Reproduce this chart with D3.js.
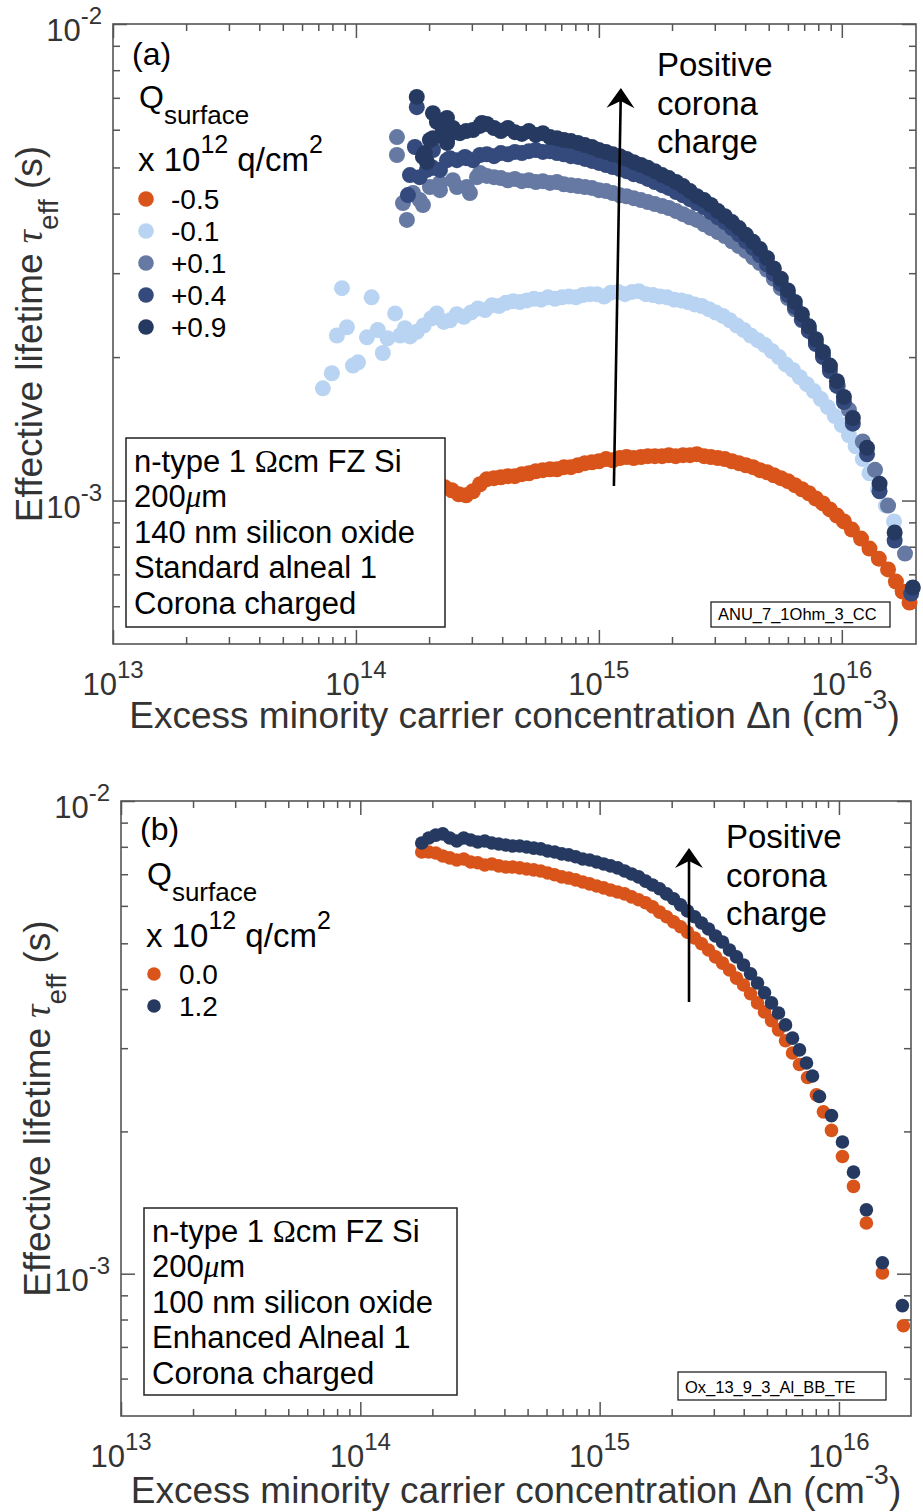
<!DOCTYPE html>
<html>
<head>
<meta charset="utf-8">
<script src="https://cdn.jsdelivr.net/npm/d3@7"></script>
<style>
  body { margin: 0; background: #fff; }
  svg { display: block; }
  text { font-family: "Liberation Sans", Arial, sans-serif; }
</style>
</head>
<body>
<svg id="fig" width="923" height="1512"></svg>
<script>
// ---------------- data: [excess carrier density (cm^-3), effective lifetime (s)] ----------------

// Panel (a): 140 nm oxide, standard alneal, five corona charge levels
const qA_m05 = [
  [1.78e14,1.061e-3],[1.90e14,1.050e-3],[2.04e14,1.056e-3],[2.17e14,1.051e-3],[2.32e14,1.066e-3],
  [2.48e14,1.051e-3],[2.65e14,1.031e-3],[2.84e14,1.026e-3],[3.03e14,1.046e-3],[3.24e14,1.082e-3],
  [3.46e14,1.109e-3],[3.70e14,1.114e-3],[3.95e14,1.119e-3],[4.22e14,1.125e-3],[4.51e14,1.125e-3],
  [4.82e14,1.136e-3],[5.15e14,1.141e-3],[5.50e14,1.152e-3],[5.88e14,1.158e-3],[6.29e14,1.163e-3],
  [6.72e14,1.163e-3],[7.18e14,1.175e-3],[7.67e14,1.175e-3],[8.20e14,1.186e-3],[8.76e14,1.198e-3],
  [9.36e14,1.203e-3],[1.00e15,1.209e-3],[1.07e15,1.222e-3],[1.14e15,1.215e-3],[1.22e15,1.228e-3],
  [1.30e15,1.234e-3],[1.39e15,1.228e-3],[1.49e15,1.234e-3],[1.59e15,1.239e-3],[1.70e15,1.239e-3],
  [1.82e15,1.239e-3],[1.94e15,1.245e-3],[2.07e15,1.239e-3],[2.22e15,1.245e-3],[2.37e15,1.245e-3],
  [2.53e15,1.251e-3],[2.71e15,1.239e-3],[2.89e15,1.234e-3],[3.09e15,1.228e-3],[3.30e15,1.222e-3],
  [3.53e15,1.209e-3],[3.77e15,1.198e-3],[4.03e15,1.186e-3],[4.31e15,1.175e-3],[4.60e15,1.158e-3],
  [4.92e15,1.147e-3],[5.25e15,1.130e-3],[5.61e15,1.114e-3],[6.00e15,1.098e-3],[6.41e15,1.077e-3],
  [6.85e15,1.056e-3],[7.32e15,1.036e-3],[7.82e15,1.010e-3],[8.36e15,9.86e-4],[8.93e15,9.58e-4],
  [9.55e15,9.30e-4],[1.02e16,9.04e-4],[1.10e16,8.69e-4],[1.20e16,8.32e-4],[1.30e16,7.93e-4],
  [1.42e16,7.55e-4],[1.55e16,7.17e-4],[1.67e16,6.76e-4],[1.78e16,6.44e-4],[1.90e16,6.11e-4]
];

const qA_m01 = [
  [7.31e13,1.72e-3],[7.96e13,1.85e-3],[8.35e13,2.22e-3],[8.76e13,2.79e-3],[9.18e13,2.31e-3],
  [9.72e13,1.92e-3],[1.02e14,1.95e-3],[1.11e14,2.20e-3],[1.16e14,2.67e-3],[1.23e14,2.28e-3],
  [1.29e14,2.04e-3],[1.35e14,2.19e-3],[1.45e14,2.47e-3],[1.52e14,2.22e-3],[1.59e14,2.30e-3],
  [1.67e14,2.21e-3],[1.78e14,2.26e-3],[1.90e14,2.33e-3],[2.04e14,2.41e-3],[2.15e14,2.47e-3],
  [2.30e14,2.37e-3],[2.44e14,2.39e-3],[2.60e14,2.46e-3],[2.78e14,2.43e-3],[2.97e14,2.48e-3],
  [3.18e14,2.53e-3],[3.40e14,2.51e-3],[3.63e14,2.57e-3],[3.88e14,2.56e-3],[4.14e14,2.60e-3],
  [4.43e14,2.62e-3],[4.73e14,2.61e-3],[5.06e14,2.63e-3],[5.40e14,2.65e-3],[5.78e14,2.64e-3],
  [6.17e14,2.67e-3],[6.60e14,2.65e-3],[7.05e14,2.67e-3],[7.53e14,2.68e-3],[8.05e14,2.67e-3],
  [8.60e14,2.70e-3],[9.19e14,2.71e-3],[9.81e14,2.71e-3],[1.05e15,2.68e-3],[1.12e15,2.73e-3],
  [1.20e15,2.74e-3],[1.28e15,2.71e-3],[1.37e15,2.74e-3],[1.46e15,2.75e-3],[1.56e15,2.71e-3],
  [1.67e15,2.70e-3],[1.78e15,2.68e-3],[1.91e15,2.67e-3],[2.04e15,2.64e-3],[2.18e15,2.63e-3],
  [2.32e15,2.61e-3],[2.48e15,2.58e-3],[2.65e15,2.56e-3],[2.84e15,2.52e-3],[3.03e15,2.48e-3],
  [3.24e15,2.44e-3],[3.46e15,2.39e-3],[3.70e15,2.33e-3],[3.95e15,2.28e-3],[4.22e15,2.22e-3],
  [4.51e15,2.17e-3],[4.82e15,2.12e-3],[5.15e15,2.06e-3],[5.51e15,2.00e-3],[5.88e15,1.93e-3],
  [6.29e15,1.88e-3],[6.72e15,1.815e-3],[7.18e15,1.755e-3],[7.67e15,1.697e-3],[8.20e15,1.633e-3],
  [8.76e15,1.57e-3],[9.36e15,1.504e-3],[1.00e16,1.44e-3],[1.07e16,1.371e-3],[1.14e16,1.30e-3],
  [1.22e16,1.222e-3],[1.30e16,1.141e-3],[1.41e16,1.056e-3],[1.52e16,9.76e-4],[1.64e16,9.04e-4]
];

const qA_p01 = [
  [1.475e14,5.79e-3],[1.475e14,5.31e-3],[1.561e14,4.21e-3],[1.621e14,3.88e-3],[1.717e14,4.42e-3],
  [1.83e14,4.27e-3],[1.887e14,4.17e-3],[2.016e14,4.55e-3],[2.217e14,4.48e-3],[2.217e14,4.64e-3],
  [2.506e14,4.70e-3],[2.604e14,4.55e-3],[2.86e14,4.55e-3],[2.945e14,4.42e-3],[3.15e14,4.77e-3],
  [3.24e14,4.87e-3],[3.46e14,4.80e-3],[3.70e14,4.77e-3],[3.95e14,4.75e-3],[4.22e14,4.70e-3],
  [4.51e14,4.73e-3],[4.82e14,4.68e-3],[5.15e14,4.70e-3],[5.50e14,4.66e-3],[5.88e14,4.68e-3],
  [6.29e14,4.64e-3],[6.72e14,4.66e-3],[7.18e14,4.61e-3],[7.67e14,4.59e-3],[8.20e14,4.57e-3],
  [8.76e14,4.55e-3],[9.36e14,4.53e-3],[1.00e15,4.48e-3],[1.07e15,4.46e-3],[1.14e15,4.42e-3],
  [1.22e15,4.37e-3],[1.30e15,4.35e-3],[1.39e15,4.31e-3],[1.49e15,4.27e-3],[1.59e15,4.23e-3],
  [1.70e15,4.19e-3],[1.82e15,4.15e-3],[1.94e15,4.11e-3],[2.08e15,4.05e-3],[2.22e15,3.99e-3],
  [2.37e15,3.93e-3],[2.53e15,3.88e-3],[2.71e15,3.80e-3],[2.89e15,3.73e-3],[3.09e15,3.66e-3],
  [3.30e15,3.59e-3],[3.53e15,3.50e-3],[3.77e15,3.42e-3],[4.03e15,3.34e-3],[4.31e15,3.24e-3],
  [4.60e15,3.15e-3],[4.92e15,3.05e-3],[5.25e15,2.92e-3],[5.61e15,2.79e-3],[6.00e15,2.66e-3],
  [6.41e15,2.52e-3],[6.85e15,2.39e-3],[7.32e15,2.27e-3],[7.82e15,2.14e-3],[8.36e15,2.02e-3],
  [8.93e15,1.905e-3],[9.63e15,1.74e-3],[1.07e16,1.55e-3],[1.22e16,1.33e-3],[1.37e16,1.16e-3],
  [1.55e16,9.76e-4],[1.82e16,7.74e-4]
];

const qA_p04 = [
  [1.78e14,6.69e-3],[1.749e14,5.52e-3],[1.668e14,4.82e-3],[1.637e14,4.375e-3],[1.83e14,4.77e-3],
  [1.96e14,4.94e-3],[2.075e14,5.44e-3],[2.075e14,4.99e-3],[2.217e14,4.94e-3],[2.37e14,5.18e-3],
  [2.437e14,5.23e-3],[2.604e14,5.18e-3],[2.81e14,5.26e-3],[2.84e14,5.23e-3],
  [3.03e14,5.18e-3],[3.24e14,5.31e-3],[3.46e14,5.33e-3],[3.70e14,5.28e-3],[3.95e14,5.36e-3],
  [4.22e14,5.33e-3],[4.51e14,5.39e-3],[4.82e14,5.36e-3],[5.15e14,5.41e-3],[5.50e14,5.44e-3],
  [5.88e14,5.39e-3],[6.29e14,5.41e-3],[6.72e14,5.36e-3],[7.18e14,5.33e-3],[7.67e14,5.28e-3],
  [8.20e14,5.26e-3],[8.76e14,5.21e-3],[9.36e14,5.16e-3],[1.00e15,5.11e-3],[1.07e15,5.06e-3],
  [1.14e15,5.01e-3],[1.22e15,4.96e-3],[1.30e15,4.91e-3],[1.39e15,4.84e-3],[1.49e15,4.80e-3],
  [1.59e15,4.73e-3],[1.70e15,4.66e-3],[1.82e15,4.59e-3],[1.94e15,4.53e-3],[2.08e15,4.44e-3],
  [2.22e15,4.37e-3],[2.37e15,4.29e-3],[2.53e15,4.21e-3],[2.71e15,4.13e-3],[2.89e15,4.03e-3],
  [3.09e15,3.93e-3],[3.30e15,3.84e-3],[3.53e15,3.73e-3],[3.77e15,3.62e-3],[4.03e15,3.50e-3],
  [4.31e15,3.39e-3],[4.60e15,3.27e-3],[4.92e15,3.13e-3],[5.25e15,2.99e-3],[5.61e15,2.85e-3],
  [6.00e15,2.70e-3],[6.41e15,2.55e-3],[6.85e15,2.40e-3],[7.32e15,2.27e-3],[7.82e15,2.13e-3],
  [8.36e15,2.00e-3],[8.93e15,1.87e-3],[9.55e15,1.74e-3],[1.02e16,1.61e-3],[1.11e16,1.45e-3],
  [1.27e16,1.25e-3],[1.43e16,1.046e-3],[1.65e16,8.24e-4],[1.93e16,6.38e-4]
];

const qA_p09 = [
  [1.78e14,7.03e-3],[1.92e14,5.36e-3],[2.075e14,6.50e-3],[2.075e14,5.76e-3],[2.154e14,6.23e-3],
  [2.28e14,5.99e-3],[2.28e14,6.08e-3],[2.016e14,5.71e-3],[1.887e14,5.26e-3],[1.96e14,5.13e-3],
  [2.37e14,5.71e-3],[2.37e14,5.63e-3],[2.37e14,6.35e-3],[2.506e14,6.05e-3],[2.60e14,5.93e-3],
  [2.68e14,5.90e-3],[2.84e14,5.96e-3],[3.03e14,5.99e-3],[3.24e14,6.11e-3],[3.30e14,6.20e-3],
  [3.46e14,6.17e-3],[3.70e14,6.05e-3],[3.95e14,5.96e-3],[4.22e14,6.05e-3],[4.51e14,5.93e-3],
  [4.82e14,5.88e-3],[5.15e14,5.96e-3],[5.50e14,5.85e-3],[5.88e14,5.90e-3],[6.29e14,5.79e-3],
  [6.72e14,5.76e-3],[7.18e14,5.71e-3],[7.67e14,5.68e-3],[8.20e14,5.63e-3],[8.76e14,5.57e-3],
  [9.36e14,5.52e-3],[1.00e15,5.44e-3],[1.07e15,5.39e-3],[1.14e15,5.33e-3],[1.22e15,5.28e-3],
  [1.30e15,5.21e-3],[1.39e15,5.13e-3],[1.49e15,5.06e-3],[1.59e15,4.99e-3],[1.70e15,4.91e-3],
  [1.82e15,4.82e-3],[1.94e15,4.75e-3],[2.08e15,4.66e-3],[2.22e15,4.57e-3],[2.37e15,4.46e-3],
  [2.53e15,4.35e-3],[2.71e15,4.27e-3],[2.89e15,4.17e-3],[3.09e15,4.05e-3],[3.30e15,3.95e-3],
  [3.53e15,3.84e-3],[3.77e15,3.73e-3],[4.03e15,3.61e-3],[4.31e15,3.49e-3],[4.60e15,3.37e-3],
  [4.92e15,3.23e-3],[5.25e15,3.07e-3],[5.61e15,2.92e-3],[6.00e15,2.76e-3],[6.41e15,2.61e-3],
  [6.85e15,2.46e-3],[7.32e15,2.32e-3],[7.82e15,2.18e-3],[8.36e15,2.05e-3],[8.93e15,1.92e-3],
  [9.55e15,1.78e-3],[1.02e16,1.65e-3],[1.11e16,1.49e-3],[1.27e16,1.29e-3],[1.43e16,1.085e-3],
  [1.65e16,8.57e-4],[1.96e16,6.57e-4]
];

// Panel (b): 100 nm oxide, enhanced alneal, two corona charge levels
const qB_00 = [
  [1.806e14,7.80e-3],[1.932e14,7.80e-3],[2.067e14,7.76e-3],[2.211e14,7.65e-3],[2.364e14,7.58e-3],
  [2.529e14,7.50e-3],[2.705e14,7.54e-3],[2.893e14,7.43e-3],[3.095e14,7.40e-3],[3.310e14,7.32e-3],
  [3.541e14,7.36e-3],[3.787e14,7.29e-3],[4.051e14,7.25e-3],[4.333e14,7.25e-3],[4.634e14,7.22e-3],
  [4.957e14,7.18e-3],[5.302e14,7.15e-3],[5.672e14,7.11e-3],[6.066e14,7.04e-3],[6.489e14,6.98e-3],
  [6.940e14,6.91e-3],[7.425e14,6.87e-3],[7.941e14,6.81e-3],[8.494e14,6.74e-3],[9.084e14,6.68e-3],
  [9.716e14,6.61e-3],[1.039e15,6.55e-3],[1.111e15,6.48e-3],[1.189e15,6.42e-3],[1.272e15,6.36e-3],
  [1.360e15,6.27e-3],[1.455e15,6.18e-3],[1.556e15,6.09e-3],[1.664e15,5.97e-3],[1.780e15,5.82e-3],
  [1.904e15,5.69e-3],[2.037e15,5.55e-3],[2.178e15,5.42e-3],[2.330e15,5.28e-3],[2.493e15,5.13e-3],
  [2.666e15,4.99e-3],[2.852e15,4.84e-3],[3.050e15,4.68e-3],[3.263e15,4.54e-3],[3.490e15,4.39e-3],
  [3.733e15,4.22e-3],[3.993e15,4.08e-3],[4.271e15,3.91e-3],[4.568e15,3.74e-3],[4.886e15,3.58e-3],
  [5.226e15,3.43e-3],[5.590e15,3.28e-3],[5.979e15,3.11e-3],[6.395e15,2.93e-3],[6.840e15,2.77e-3],
  [7.39e15,2.60e-3],[8.05e15,2.39e-3],[8.61e15,2.20e-3],[9.305e15,2.01e-3],[1.034e16,1.77e-3],
  [1.15e16,1.53e-3],[1.302e16,1.28e-3],[1.519e16,1.004e-3],[1.859e16,7.76e-4]
];

const qB_12 = [
  [1.806e14,8.15e-3],[1.932e14,8.35e-3],[2.067e14,8.47e-3],[2.211e14,8.52e-3],[2.364e14,8.35e-3],
  [2.529e14,8.23e-3],[2.705e14,8.35e-3],[2.893e14,8.27e-3],[3.095e14,8.19e-3],[3.310e14,8.23e-3],
  [3.541e14,8.15e-3],[3.787e14,8.11e-3],[4.051e14,8.07e-3],[4.333e14,8.03e-3],[4.634e14,8.03e-3],
  [4.957e14,7.99e-3],[5.302e14,7.95e-3],[5.672e14,7.92e-3],[6.066e14,7.84e-3],[6.489e14,7.80e-3],
  [6.940e14,7.73e-3],[7.425e14,7.69e-3],[7.941e14,7.62e-3],[8.494e14,7.54e-3],[9.084e14,7.50e-3],
  [9.716e14,7.43e-3],[1.039e15,7.36e-3],[1.111e15,7.29e-3],[1.189e15,7.22e-3],[1.272e15,7.11e-3],
  [1.360e15,7.01e-3],[1.455e15,6.91e-3],[1.556e15,6.77e-3],[1.664e15,6.64e-3],[1.780e15,6.52e-3],
  [1.904e15,6.36e-3],[2.037e15,6.21e-3],[2.178e15,6.03e-3],[2.330e15,5.85e-3],[2.493e15,5.69e-3],
  [2.666e15,5.52e-3],[2.852e15,5.36e-3],[3.050e15,5.18e-3],[3.263e15,5.03e-3],[3.490e15,4.84e-3],
  [3.733e15,4.68e-3],[3.993e15,4.50e-3],[4.271e15,4.31e-3],[4.568e15,4.12e-3],[4.886e15,3.93e-3],
  [5.226e15,3.74e-3],[5.590e15,3.56e-3],[5.979e15,3.36e-3],[6.395e15,3.15e-3],[6.840e15,2.975e-3],
  [7.317e15,2.79e-3],[7.752e15,2.62e-3],[8.292e15,2.37e-3],[9.305e15,2.16e-3],[1.034e16,1.90e-3],
  [1.15e16,1.64e-3],[1.302e16,1.365e-3],[1.519e16,1.055e-3],[1.841e16,8.56e-4]
];

// legend labels (surface charge, x 10^12 q/cm^2)
const legendA = ["-0.5", "-0.1", "+0.1", "+0.4", "+0.9"];
const legendB = ["0.0", "1.2"];

// major tick values and their exponent labels
const dnMajor = [1e13, 1e14, 1e15, 1e16];
const dnMajorExp = ["13", "14", "15", "16"];
const tauMajor = [1e-3, 1e-2];
const tauMajorExp = ["-3", "-2"];

// sample description boxes
const boxA = ["n-type 1 Ωcm FZ Si", "200μm", "140 nm silicon oxide", "Standard alneal 1", "Corona charged"];
const boxB = ["n-type 1 Ωcm FZ Si", "200μm", "100 nm silicon oxide", "Enhanced Alneal 1", "Corona charged"];
const tagA = "ANU_7_1Ohm_3_CC";
const tagB = "Ox_13_9_3_Al_BB_TE";
const arrowText = ["Positive", "corona", "charge"];

// ---------------- styling ----------------
const colorsA = ["#d9541a", "#b8d4f2", "#6579a3", "#34497c", "#263a61"];
const colorsB = ["#d9541a", "#263a61"];
const axisColor = "#555";
const labelColor = "#333";

const svg = d3.select("#fig");
svg.append("rect").attr("width", 923).attr("height", 1512).attr("fill", "#fff");

// text helper: Greek symbols set in a serif face
function richText(sel, str) {
  for (const ch of str.split(/([Ωμ])/)) {
    if (!ch) continue;
    const t = sel.append("tspan").text(ch);
    if (ch === "Ω") t.attr("font-family", "Liberation Serif");
    if (ch === "μ") t.attr("font-family", "Liberation Serif").attr("font-style", "italic");
  }
}

function drawPanel(o) {
  const g = svg.append("g");
  const x = d3.scaleLog().domain(o.xDomain).range([o.left, o.right]);
  const y = d3.scaleLog().domain([5e-4, 1e-2]).range([o.bottom, o.top]);

  // minor tick values inside the domains
  const xMinor = [], yMinor = [];
  for (let e = 13; e <= 16; e++) for (let k = 2; k <= 9; k++) {
    const v = k * Math.pow(10, e);
    if (v < o.xDomain[1] * 0.985) xMinor.push(v);
  }
  for (let e = -4; e <= -3; e++) for (let k = 2; k <= 9; k++) {
    const v = k * Math.pow(10, e);
    if (v > 5.05e-4 && v < 1e-2) yMinor.push(v);
  }

  // frame
  g.append("rect")
    .attr("x", o.left).attr("y", o.top)
    .attr("width", o.right - o.left).attr("height", o.bottom - o.top)
    .attr("fill", "none").attr("stroke", axisColor).attr("stroke-width", 1.6);

  // inward ticks on all four sides
  const tickSets = [
    [d3.axisBottom, x, `translate(0,${o.bottom})`],
    [d3.axisTop, x, `translate(0,${o.top})`],
    [d3.axisLeft, y, `translate(${o.left},0)`],
    [d3.axisRight, y, `translate(${o.right},0)`]
  ];
  for (const [fn, sc, tr] of tickSets) {
    const isX = sc === x;
    [[isX ? dnMajor : tauMajor, 14], [isX ? xMinor : yMinor, 7]].forEach(([vals, len]) => {
      g.append("g").attr("transform", tr)
        .call(fn(sc).tickValues(vals).tickSize(-len).tickFormat(() => ""))
        .call(a => a.select(".domain").remove())
        .call(a => a.selectAll("text").remove())
        .selectAll("line").attr("stroke", axisColor).attr("stroke-width", 1.5);
    });
  }

  // tick labels 10^n
  dnMajor.forEach((v, i) => {
    const t = g.append("text").attr("x", x(v)).attr("y", o.bottom + 51)
      .attr("text-anchor", "middle").attr("font-size", 31).attr("fill", labelColor);
    t.append("tspan").text("10");
    t.append("tspan").attr("dy", -17).attr("font-size", 24).text(dnMajorExp[i]);
  });
  tauMajor.forEach((v, i) => {
    const t = g.append("text").attr("x", o.left - 11).attr("y", y(v) + 17)
      .attr("text-anchor", "end").attr("font-size", 31).attr("fill", labelColor);
    t.append("tspan").text("10");
    t.append("tspan").attr("dy", -17).attr("font-size", 24).text(tauMajorExp[i]);
  });

  // axis titles
  const xt = g.append("text").attr("x", (o.left + o.right) / 2).attr("y", o.xTitleY)
    .attr("text-anchor", "middle").attr("font-size", 37).attr("fill", labelColor);
  xt.append("tspan").text("Excess minority carrier concentration Δn (cm");
  xt.append("tspan").attr("dy", -19).attr("font-size", 27).text("-3");
  xt.append("tspan").attr("dy", 19).text(")");

  const yt = g.append("text")
    .attr("transform", `translate(${o.yTitleX},${(o.top + o.bottom) / 2}) rotate(-90)`)
    .attr("text-anchor", "middle").attr("font-size", 37).attr("fill", labelColor);
  yt.append("tspan").text("Effective lifetime ");
  yt.append("tspan").attr("font-family", "Liberation Serif").attr("font-style", "italic").text("τ");
  yt.append("tspan").attr("dy", 16).attr("font-size", 28).text("eff");
  yt.append("tspan").attr("dy", -16).text(" (s)");

  // data points
  o.series.forEach((s, i) => {
    g.append("g").selectAll("circle").data(s).join("circle")
      .attr("cx", d => x(d[0])).attr("cy", d => y(d[1]))
      .attr("r", o.r).attr("fill", o.colors[i]);
  });

  // sample description box
  g.append("rect").attr("x", o.box.x).attr("y", o.box.y)
    .attr("width", o.box.w).attr("height", o.box.h)
    .attr("fill", "#fff").attr("stroke", "#222").attr("stroke-width", 1.5);
  o.boxLines.forEach((line, i) => {
    const t = g.append("text").attr("x", o.box.x + 8).attr("y", o.box.y + 34 + i * 35.4)
      .attr("font-size", 31).attr("fill", "#000");
    richText(t, line);
  });

  // file tag box
  g.append("rect").attr("x", o.tag.x).attr("y", o.tag.y)
    .attr("width", o.tag.w).attr("height", o.tag.h)
    .attr("fill", "#fff").attr("stroke", "#222").attr("stroke-width", 1.3);
  g.append("text").attr("x", o.tag.x + 7).attr("y", o.tag.y + o.tag.h - 7)
    .attr("font-size", 16.5).attr("fill", "#000").text(o.tagText);

  // panel letter and legend header
  g.append("text").attr("x", o.leg.x - 7).attr("y", o.leg.letterY)
    .attr("font-size", 32).attr("fill", "#000").text(o.letter);
  const q = g.append("text").attr("x", o.leg.x).attr("y", o.leg.qY)
    .attr("font-size", 32).attr("fill", "#000");
  q.append("tspan").text("Q");
  q.append("tspan").attr("dy", 16).attr("font-size", 26).text("surface");
  const u = g.append("text").attr("x", o.leg.x - 1).attr("y", o.leg.unitY)
    .attr("font-size", 33).attr("fill", "#000");
  u.append("tspan").text("x 10");
  u.append("tspan").attr("dy", -18).attr("font-size", 25).text("12");
  u.append("tspan").attr("dy", 18).text(" q/cm");
  u.append("tspan").attr("dy", -18).attr("font-size", 25).text("2");

  o.legend.forEach((lab, i) => {
    const cy = o.leg.row0 + i * o.leg.rowStep;
    g.append("circle").attr("cx", o.leg.x + 7).attr("cy", cy).attr("r", o.legR).attr("fill", o.colors[i]);
    g.append("text").attr("x", o.leg.x + 32).attr("y", cy + 10)
      .attr("font-size", 28).attr("fill", "#000").text(lab);
  });

  // arrow showing increasing positive charge
  const x0 = x(o.arrow[0][0]), y0 = y(o.arrow[0][1]);
  const x1 = x(o.arrow[1][0]), y1 = y(o.arrow[1][1]);
  const len = Math.hypot(x1 - x0, y1 - y0);
  const ux = (x1 - x0) / len, uy = (y1 - y0) / len;
  const px = -uy, py = ux;
  g.append("line").attr("x1", x0).attr("y1", y0)
    .attr("x2", x1 - ux * 10).attr("y2", y1 - uy * 10)
    .attr("stroke", "#000").attr("stroke-width", 2.6);
  const head = [
    [x1, y1],
    [x1 - ux * 20 + px * 14, y1 - uy * 20 + py * 14],
    [x1 - ux * 13, y1 - uy * 13],
    [x1 - ux * 20 - px * 14, y1 - uy * 20 - py * 14]
  ];
  g.append("polygon").attr("points", head.map(p => p.join(",")).join(" ")).attr("fill", "#000");

  arrowText.forEach((w, i) => {
    g.append("text").attr("x", o.arrowLabel.x).attr("y", o.arrowLabel.y + i * 38.5)
      .attr("font-size", 33).attr("fill", "#000").text(w);
  });
}

drawPanel({
  left: 113, right: 916, top: 24, bottom: 644,
  xDomain: [1e13, 2.02e16],
  xTitleY: 728, yTitleX: 42,
  series: [qA_m05, qA_m01, qA_p01, qA_p04, qA_p09],
  colors: colorsA, r: 8, legR: 7.8,
  legend: legendA, letter: "(a)",
  leg: { x: 139, letterY: 65, qY: 108, unitY: 171, row0: 199, rowStep: 32 },
  box: { x: 126, y: 438, w: 319, h: 189 }, boxLines: boxA,
  tag: { x: 711, y: 602, w: 179, h: 25 }, tagText: tagA,
  arrow: [[1.153e15, 1.073e-3], [1.232e15, 7.34e-3]],
  arrowLabel: { x: 657, y: 76 }
});

drawPanel({
  left: 121, right: 911, top: 801, bottom: 1416,
  xDomain: [1e13, 2e16],
  xTitleY: 1503, yTitleX: 50,
  series: [qB_00, qB_12],
  colors: colorsB, r: 6.8, legR: 6.8,
  legend: legendB, letter: "(b)",
  leg: { x: 147, letterY: 840, qY: 885, unitY: 947, row0: 974, rowStep: 32 },
  box: { x: 144, y: 1208, w: 313, h: 187 }, boxLines: boxB,
  tag: { x: 678, y: 1372, w: 208, h: 28 }, tagText: tagB,
  arrow: [[2.363e15, 3.757e-3], [2.363e15, 7.95e-3]],
  arrowLabel: { x: 726, y: 848 }
});
</script>
</body>
</html>
